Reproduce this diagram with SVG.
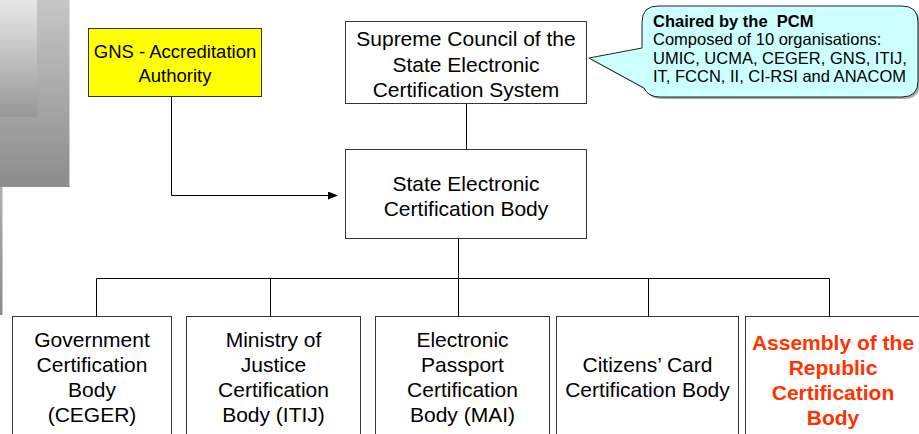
<svg xmlns="http://www.w3.org/2000/svg" width="919" height="434" viewBox="0 0 919 434">
<style>
text{font-family:"Liberation Sans",Arial,Helvetica,sans-serif;font-size:21px;fill:#000;text-anchor:middle}
.box{fill:#fff;stroke:#333;stroke-width:1}
.ln{fill:none;stroke:#000;stroke-width:1}
.red{fill:#ff3300;font-weight:bold}
.note{font-size:16.5px;text-anchor:start}
</style>
<defs>
<linearGradient id="gOuter" x1="0" y1="0" x2="0" y2="1"><stop offset="0" stop-color="#c6c6c6"/><stop offset="1" stop-color="#8c8c8c"/></linearGradient>
<linearGradient id="gInner" x1="0" y1="0" x2="0" y2="1"><stop offset="0" stop-color="#e8e8e8"/><stop offset="1" stop-color="#979797"/></linearGradient>
<linearGradient id="gStrip" x1="0" y1="0" x2="0" y2="1"><stop offset="0" stop-color="#b0b0b0"/><stop offset="1" stop-color="#8a8a8a"/></linearGradient>
<marker id="arr" markerWidth="10" markerHeight="8" refX="9" refY="4" orient="auto" markerUnits="userSpaceOnUse"><path d="M0,0 L10,4 L0,8 Z" fill="#000"/></marker>
</defs>
<g id="decor">
<rect x="0" y="0" width="69.5" height="187" fill="url(#gOuter)"/>
<rect x="0" y="0" width="37" height="117" fill="url(#gInner)"/>
<rect x="0" y="187" width="2.5" height="128" fill="url(#gStrip)"/>
</g>
<g id="connectors">
<path class="ln" d="M171.5,97 V195.5 H337" marker-end="url(#arr)"/>
<path class="ln" d="M466.5,104 V149"/>
<path class="ln" d="M458.5,239 V316"/>
<path class="ln" d="M96.5,316 V278.5 H829.5 V316"/>
<path class="ln" d="M270.5,278.5 V316"/>
<path class="ln" d="M648.5,278.5 V316"/>
</g>
<g id="gns">
<rect x="88.5" y="28.5" width="173" height="68" fill="#ffff00" stroke="#333"/>
<text x="175" y="58" style="font-size:18.5px">GNS - Accreditation</text>
<text x="175" y="82" style="font-size:18.5px">Authority</text>
</g>
<g id="supreme">
<rect class="box" x="345.5" y="21.5" width="241" height="82"/>
<text x="466" y="46">Supreme Council of the</text>
<text x="466" y="72">State Electronic</text>
<text x="466" y="97">Certification System</text>
</g>
<g id="callout">
<path d="M644,24 Q644,8 660,8 H904 Q920,8 920,24 V83 Q920,99 904,99 H662 Q650,99 646,90 L591,60 L644,50 Z" fill="#555" opacity="0.5"/>
<path d="M642,22 Q642,6 658,6 H902 Q918,6 918,22 V81 Q918,97 902,97 H660 Q648,97 644,88 L589,58 L642,48 Z" fill="#ccffff" stroke="#222" stroke-width="1"/>
<text class="note" x="653" y="27" style="font-weight:bold;white-space:pre" xml:space="preserve">Chaired by the  PCM</text>
<text class="note" x="653" y="45">Composed of 10 organisations:</text>
<text class="note" x="653" y="63.5">UMIC, UCMA, CEGER, GNS, ITIJ,</text>
<text class="note" x="653" y="82">IT, FCCN, II, CI-RSI and ANACOM</text>
</g>
<g id="state">
<rect class="box" x="345.5" y="149.5" width="241" height="89"/>
<text x="466" y="191">State Electronic</text>
<text x="466" y="216">Certification Body</text>
</g>
<g id="ceger">
<rect class="box" x="12.5" y="316.5" width="159" height="130"/>
<text x="92" y="347">Government</text>
<text x="92" y="372">Certification</text>
<text x="92" y="397">Body</text>
<text x="92" y="422">(CEGER)</text>
</g>
<g id="itij">
<rect class="box" x="186.5" y="316.5" width="174" height="130"/>
<text x="273.5" y="347">Ministry of</text>
<text x="273.5" y="372">Justice</text>
<text x="273.5" y="397">Certification</text>
<text x="273.5" y="422">Body (ITIJ)</text>
</g>
<g id="mai">
<rect class="box" x="375.5" y="316.5" width="174" height="130"/>
<text x="462.5" y="347">Electronic</text>
<text x="462.5" y="372">Passport</text>
<text x="462.5" y="397">Certification</text>
<text x="462.5" y="422">Body (MAI)</text>
</g>
<g id="citizens">
<rect class="box" x="556.5" y="316.5" width="182" height="130"/>
<text x="647.5" y="372">Citizens’ Card</text>
<text x="647.5" y="397">Certification Body</text>
</g>
<g id="assembly">
<rect class="box" x="745.5" y="316.5" width="185" height="130"/>
<text class="red" x="833" y="350">Assembly of the</text>
<text class="red" x="833" y="375">Republic</text>
<text class="red" x="833" y="400">Certification</text>
<text class="red" x="833" y="425">Body</text>
</g>
</svg>
